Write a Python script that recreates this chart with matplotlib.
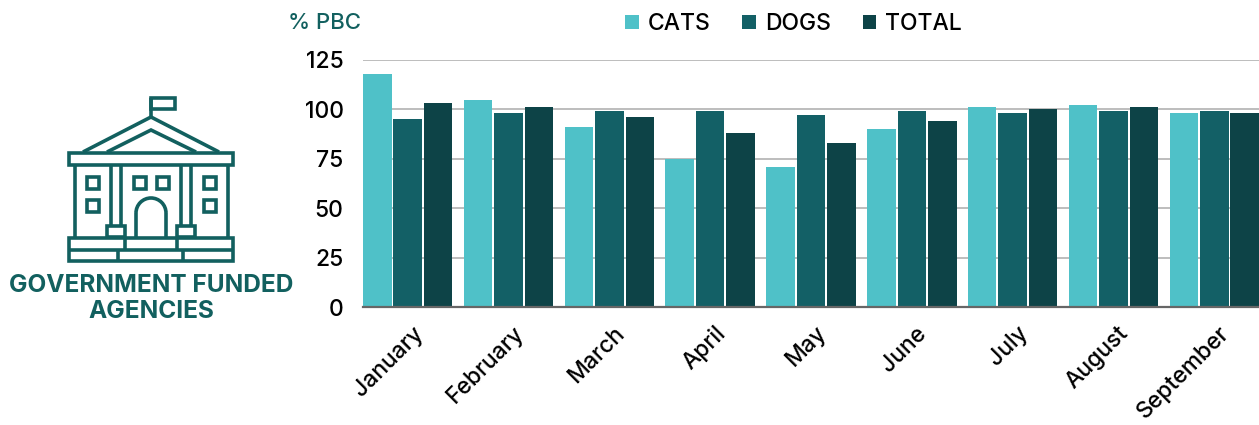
import matplotlib
import matplotlib.pyplot as plt
from matplotlib.patches import Arc, Rectangle
from matplotlib.transforms import ScaledTranslation

matplotlib.use('Agg')
plt.rcParams['font.family'] = ['Inter', 'DejaVu Sans']
plt.rcParams['font.weight'] = 500

months = ['January', 'February', 'March', 'April', 'May', 'June', 'July', 'August', 'September']
cats = [118, 105, 91, 75, 71, 90, 101, 102, 98]
dogs = [95, 98, 99, 99, 97, 99, 98, 99, 99]
total = [103, 101, 96, 88, 83, 94, 100, 101, 98]
y_ticks = [0, 25, 50, 75, 100, 125]

CATS_COLOR = '#4fc1c8'
DOGS_COLOR = '#136066'
TOTAL_COLOR = '#0d4347'
ICON_COLOR = '#12605f'
W, H = 1259, 425

fig = plt.figure(figsize=(W / 100, H / 100), dpi=100)
ax = fig.add_axes([363 / W, 1 - 307 / H, 1 - 363 / W, 247 / H])

step = 0.302
width = 0.283
xs = range(len(months))
ax.bar([x - step for x in xs], cats, width, color=CATS_COLOR, label='CATS', zorder=3)
ax.bar(list(xs), dogs, width, color=DOGS_COLOR, label='DOGS', zorder=3)
ax.bar([x + step for x in xs], total, width, color=TOTAL_COLOR, label='TOTAL', zorder=3)

ax.set_xlim(-step - width / 2, len(months) - 1 + step + width / 2)
ax.set_ylim(0, 125)
ax.set_yticks(y_ticks)
ax.grid(axis='y', color='#b7b7b7', linewidth=1.3, zorder=0)
ax.set_axisbelow(True)
for side in ['top', 'right', 'left']:
    ax.spines[side].set_visible(False)
ax.spines['bottom'].set_color('#666666')
ax.spines['bottom'].set_linewidth(1.6)
ax.spines['bottom'].set_zorder(4)
ax.tick_params(axis='y', length=0, pad=14, labelsize=16.5, labelcolor='black')
ax.tick_params(axis='x', length=0, pad=11)
ax.set_xticks(list(xs))
ax.set_xticklabels(months, fontsize=16.5, rotation=45, ha='right', va='top',
                   rotation_mode='anchor', color='black')
# nudge month labels right so they end under the group like the original
nudge = ScaledTranslation(4 / 100, 0, fig.dpi_scale_trans)
for label in ax.get_xticklabels():
    label.set_transform(label.get_transform() + nudge)

fig.legend(loc='center', bbox_to_anchor=(793.5 / W, 1 - 24 / H), ncols=3, frameon=False,
           fontsize=16.5, handlelength=0.6, handleheight=0.55, handletextpad=0.38,
           columnspacing=1.4, labelcolor='black')

# overlay in pixel coordinates for the icon and side texts
ov = fig.add_axes([0, 0, 1, 1], zorder=5)
ov.set_xlim(0, W)
ov.set_ylim(H, 0)
ov.axis('off')
ov.patch.set_alpha(0)

ov.text(325, 23, '% PBC', color=ICON_COLOR, fontsize=16, ha='center', va='center')
ov.text(151, 286, 'GOVERNMENT FUNDED', color=ICON_COLOR, fontsize=17.6, fontweight='bold',
        ha='center', va='center')
ov.text(151, 312, 'AGENCIES', color=ICON_COLOR, fontsize=17.6, fontweight='bold',
        ha='center', va='center')


def line(xv, yv, lw=2.6):
    ov.plot(xv, yv, color=ICON_COLOR, linewidth=lw, solid_capstyle='butt', solid_joinstyle='miter')


def box(x, y, w, h, lw=2.6):
    ov.add_patch(Rectangle((x, y), w, h, fill=False, edgecolor=ICON_COLOR, linewidth=lw))


# flag
line([151, 151], [117, 98])
box(151, 98, 24, 11)
# roof
line([83, 151, 219], [152, 117, 152])
line([107, 151, 196], [152, 130, 152])
# entablature
box(69.5, 153, 164, 12)
# walls
line([75, 75], [165, 237])
line([228, 228], [165, 237])
# columns
line([111, 111], [165, 226])
line([121, 121], [165, 226])
line([181, 181], [165, 226])
line([191, 191], [165, 226])
box(107.5, 226, 18, 11)
box(177.5, 226, 18, 11)
# windows
for wx, wy in [(87, 177), (87, 200), (134, 177), (157, 177), (204, 177), (204, 200)]:
    box(wx, wy, 12, 12)
# door
line([136, 136], [237, 213])
line([166, 166], [237, 213])
ov.add_patch(Arc((151, 213), 30, 30, theta1=180, theta2=360, edgecolor=ICON_COLOR, linewidth=2.6))
# steps
box(69.5, 238, 164, 23)
line([69, 234], [250, 250])
line([125, 125], [238, 250])
line([177, 177], [238, 250])
line([118, 118], [250, 261])
line([183, 183], [250, 261])

fig.savefig('out.png', dpi=100)
